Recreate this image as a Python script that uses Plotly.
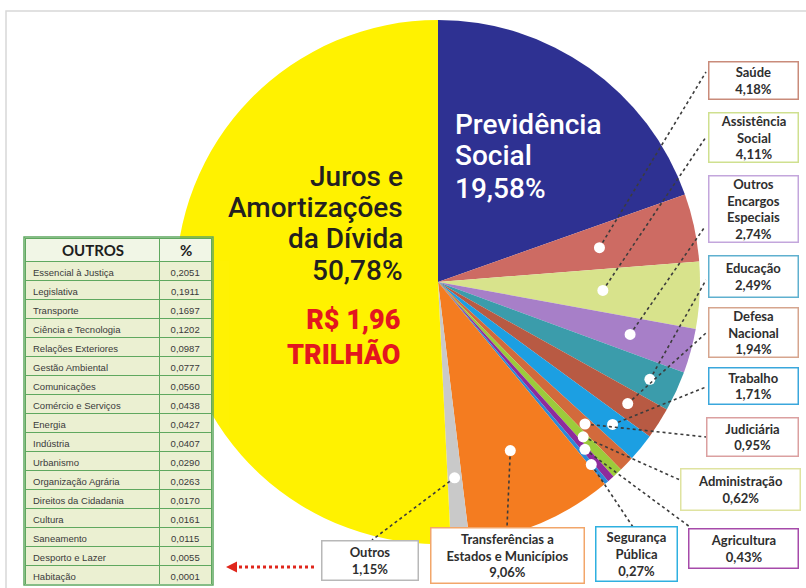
import math
import plotly.graph_objects as go

W, H = 806, 588

# ------------------------------
# Data
# ------------------------------

# --- pie slices (% do orçamento), clockwise from 12 o'clock
labels = ["Previdência Social", "Saúde", "Assistência Social", "Outros Encargos Especiais",
          "Educação", "Defesa Nacional", "Trabalho", "Judiciária", "Administração",
          "Agricultura", "Segurança Pública", "Transferências a Estados e Municípios",
          "Outros", "Juros e Amortizações da Dívida"]
values = [19.58, 4.18, 4.11, 2.74, 2.49, 1.94, 1.71, 0.95, 0.62, 0.43, 0.27, 9.06, 1.15, 50.78]

# --- how each label is broken inside its callout box
box_text = ["Saúde", "Assistência<br>Social", "Outros<br>Encargos<br>Especiais", "Educação",
            "Defesa<br>Nacional", "Trabalho", "Judiciária", "Administração", "Agricultura",
            "Segurança<br>Pública", "Transferências a<br>Estados e Municípios", "Outros"]

total_text = ["R$ 1,96", "TRILHÃO"]

# --- table "OUTROS"
table_header = ["OUTROS", "%"]
outros_names = ["Essencial à Justiça", "Legislativa", "Transporte", "Ciência e Tecnologia",
                "Relações Exteriores", "Gestão Ambiental", "Comunicações", "Comércio e Serviços",
                "Energia", "Indústria", "Urbanismo", "Organização Agrária", "Direitos da Cidadania",
                "Cultura", "Saneamento", "Desporto e Lazer", "Habitação"]
outros_pct = [0.2051, 0.1911, 0.1697, 0.1202, 0.0987, 0.0777, 0.0560, 0.0438,
              0.0427, 0.0407, 0.0290, 0.0263, 0.0170, 0.0161, 0.0115, 0.0055, 0.0001]

# ------------------------------
# Style / layout
# ------------------------------
colors = ["#2e3192", "#cd6b63", "#d8e38c", "#a77fc8", "#3b9cab", "#b85a43", "#1c9fe2",
          "#d26a3c", "#9ccb3b", "#8e2b9c", "#2b8ad8", "#f47c20", "#c9c9c9", "#fff200"]

# callout boxes for slices 1..12: centre x, centre y, width, height, border colour, line anchor
boxes = [
    (753, 81, 90, 38, "#c98b7a", (706, 72)),
    (753, 137, 90, 50, "#cfe08f", (706, 137)),
    (753, 209, 90, 67, "#c3a6dc", (704, 228)),
    (753, 276, 90, 42, "#5fb0cf", (706, 280)),
    (753, 332, 90, 50, "#d6a58e", (706, 333)),
    (753, 386, 90, 37, "#3aa7dc", (706, 387)),
    (752, 437, 92, 39, "#dba0a0", (706, 437)),
    (740, 489, 120, 42, "#dfe3a0", (680, 480)),
    (743, 548, 110, 40, "#a64aaa", (690, 527)),
    (636, 554, 82, 55, "#2eb0e0", (633, 527)),
    (507, 555, 154, 56, "#f2a66a", (507, 527)),
    (370, 560, 97, 40, "#b8b8b8", (372, 540)),
]
# radial position (fraction of radius) of the white dot on each slice
dot_frac = [0.63, 0.63, 0.76, 0.89, 0.86, 0.86, 0.78, 0.81, 0.85, 0.91, 0.70, 0.75]

cx, cy, R = 438, 282, 262  # pie centre / radius in px
tx0, tx1, tsplit = 25, 212, 160  # table left / right / column split
ttop, thead_h, trow_h = 238, 23, 19  # table top / header height / row height
green = "#5fa85f"


def pp(x, y):
    return x / W, 1 - y / H


def fmt(v, d=2):
    return f"{v:.{d}f}".replace(".", ",")


fig = go.Figure()

fig.add_trace(go.Pie(
    labels=labels, values=values, sort=False, direction="clockwise", rotation=0,
    marker=dict(colors=colors, line=dict(width=0)),
    textinfo="none", hoverinfo="label+percent",
    domain=dict(x=[(cx - R) / W, (cx + R) / W], y=[(H - cy - R) / H, (H - cy + R) / H]),
))

tbot = ttop + thead_h + trow_h * len(outros_names)
fig.add_trace(go.Table(
    domain=dict(x=[tx0 / W, tx1 / W], y=[(H - tbot) / H, (H - ttop) / H]),
    columnwidth=[tsplit - tx0, tx1 - tsplit],
    header=dict(values=["", ""], height=thead_h,
                fill_color="#f1f6e6", line=dict(color=green, width=1)),
    cells=dict(values=[outros_names, [fmt(v, 4) for v in outros_pct]], height=trow_h,
               fill_color="#ebf0d2", line=dict(color=green, width=1),
               font=dict(family="Liberation Sans Narrow, Liberation Sans, sans-serif",
                         size=9.5, color="#3a3a3a"),
               align=["left", "center"]),
))

shapes = []
annotations = []

# frame
x0, y0 = pp(6, 11)
shapes.append(dict(type="rect", xref="paper", yref="paper", x0=x0, y0=-0.02, x1=1.02, y1=y0,
                   line=dict(color="#d8d8d8", width=1.5), layer="below"))

# table outer border + header text
b0, b1 = pp(tx0 - 1, ttop - 1), pp(tx1 + 1, tbot + 1)
shapes.append(dict(type="rect", xref="paper", yref="paper", x0=b0[0], y0=b1[1], x1=b1[0], y1=b0[1],
                   line=dict(color=green, width=1.5)))
for txt, xc in zip(table_header, [(tx0 + tsplit) / 2, (tsplit + tx1) / 2]):
    ax_, ay_ = pp(xc, ttop + thead_h / 2 + 1)
    annotations.append(dict(x=ax_, y=ay_, xref="paper", yref="paper", xanchor="center",
                            yanchor="middle", text=f"<b>{txt}</b>", showarrow=False,
                            font=dict(family="Lato, sans-serif", size=15, color="#1e1e1e")))

# dots, leader lines and callouts
cum = values[0]
for i in range(1, 13):
    v = values[i]
    theta = math.radians(360 * (cum + v / 2) / 100)
    cum += v
    dx = cx + dot_frac[i - 1] * R * math.sin(theta)
    dy = cy - dot_frac[i - 1] * R * math.cos(theta)
    bx, by, bw, bh, bc, (ax, ay) = boxes[i - 1]
    lx0, ly0 = pp(dx, dy)
    lx1, ly1 = pp(ax, ay)
    shapes.append(dict(type="line", xref="paper", yref="paper", x0=lx0, y0=ly0, x1=lx1, y1=ly1,
                       line=dict(color="#3c3c3c", width=1.6, dash="dot")))
    c0 = pp(dx - 5.5, dy - 5.5)
    c1 = pp(dx + 5.5, dy + 5.5)
    shapes.append(dict(type="circle", xref="paper", yref="paper", x0=c0[0], y0=c1[1],
                       x1=c1[0], y1=c0[1], fillcolor="white", line=dict(width=0)))
    tx, ty = pp(bx, by)
    annotations.append(dict(
        x=tx, y=ty, xref="paper", yref="paper", xanchor="center", yanchor="middle",
        text=f"<b>{box_text[i - 1]}<br>{fmt(v)}%</b>", showarrow=False,
        width=bw - 4, height=bh - 4, borderpad=1, bgcolor="white",
        bordercolor=bc, borderwidth=1.5, align="center",
        font=dict(family="Lato, sans-serif", size=13, color="#2e2e2e"),
    ))

# Juros e Amortizações (right aligned on the yellow slice)
juros_lines = ["Juros e", "Amortizações", "da Dívida", fmt(values[-1]) + "%"]
for line, yc in zip(juros_lines, [176, 207, 238, 270]):
    tx, ty = pp(405, yc)
    annotations.append(dict(x=tx, y=ty, xref="paper", yref="paper", xanchor="right",
                            yanchor="middle", text=line, showarrow=False,
                            font=dict(family="Roboto, sans-serif", size=28, color="#231f20",
                                      weight=500)))

# total, in red
tx, ty = pp(402, 337)
annotations.append(dict(x=tx, y=ty, xref="paper", yref="paper", xanchor="right",
                        yanchor="middle", align="right", text="<br>".join(total_text),
                        showarrow=False,
                        font=dict(family="Roboto, sans-serif", size=27, color="#e3171f",
                                  weight=900)))

# Previdência Social (white on the blue slice)
prev_lines = ["Previdência", "Social", fmt(values[0]) + "%"]
for line, yc in zip(prev_lines, [124, 155, 189]):
    tx, ty = pp(453, yc)
    annotations.append(dict(x=tx, y=ty, xref="paper", yref="paper", xanchor="left",
                            yanchor="middle", text=line, showarrow=False,
                            font=dict(family="Roboto, sans-serif", size=28, color="white",
                                      weight=500)))

# red dotted arrow pointing to the table
a0 = pp(314, 567)
a1 = pp(236, 567)
shapes.append(dict(type="line", xref="paper", yref="paper", x0=a0[0], y0=a0[1], x1=a1[0], y1=a1[1],
                   line=dict(color="#e0261c", width=3, dash="dot")))
p1, p2, p3 = pp(237, 561.5), pp(226, 567), pp(237, 572.5)
shapes.append(dict(type="path", xref="paper", yref="paper",
                   path=f"M {p1[0]},{p1[1]} L {p2[0]},{p2[1]} L {p3[0]},{p3[1]} Z",
                   fillcolor="#e0261c", line=dict(width=0)))

fig.update_layout(
    width=W, height=H,
    margin=dict(t=0, l=0, r=0, b=0),
    paper_bgcolor="white",
    showlegend=False,
    shapes=shapes,
    annotations=annotations,
)

# page body has a default 8px margin; drop it so the figure fills the window
fig.write_html("out.html", config={"displayModeBar": False},
               post_script="document.body.style.margin='0';")
